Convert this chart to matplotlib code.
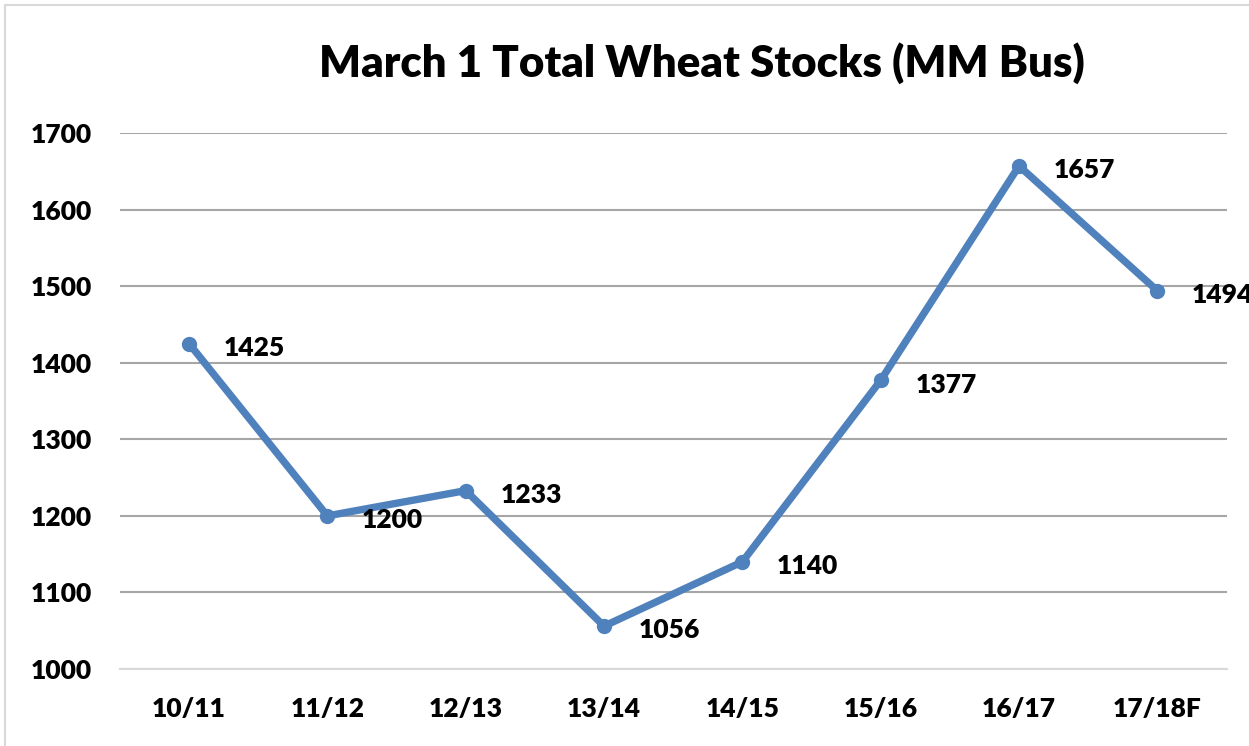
import matplotlib.pyplot as plt
from matplotlib.patches import Rectangle

plt.rcParams['font.family'] = ['Lato', 'DejaVu Sans']
plt.rcParams['font.weight'] = 'heavy'

seasons = ['10/11', '11/12', '12/13', '13/14', '14/15', '15/16', '16/17', '17/18F']
stocks = [1425, 1200, 1233, 1056, 1140, 1377, 1657, 1494]

fig = plt.figure(figsize=(12.49, 7.46), dpi=100)
ax = fig.add_axes([0.096, 0.1032, 0.886, 0.7185])

# chart border (cut off on the right and bottom like the screenshot)
fig.patches.append(Rectangle((5 / 1249, -0.05), 1.2, 0.05 + 741 / 746,
                             transform=fig.transFigure, fill=False,
                             edgecolor='#D9D9D9', linewidth=1.5))

x = list(range(len(seasons)))
ax.plot(x, stocks, color='#4F81BD', linewidth=5.3, marker='o', markersize=10,
        solid_capstyle='round', zorder=3)

for xi, v in zip(x, stocks):
    ax.annotate(str(v), (xi, v), xytext=(25, -3), textcoords='offset points',
                ha='left', va='center', fontsize=19, fontweight='heavy',
                annotation_clip=False)

ax.set_xlim(-0.5, len(seasons) - 0.5)
ax.set_ylim(1000, 1700)
ax.set_yticks(range(1000, 1701, 100))
ax.set_xticks(x)
ax.set_xticklabels(seasons)
ax.tick_params(axis='both', length=0, labelsize=19)
ax.tick_params(axis='x', pad=20)
ax.tick_params(axis='y', pad=20)
for lab in ax.get_xticklabels() + ax.get_yticklabels():
    lab.set_fontweight('heavy')

ax.grid(axis='y', color='#A6A6A6', linewidth=1.5)
ax.set_axisbelow(True)
for s in ['top', 'right', 'left']:
    ax.spines[s].set_visible(False)
ax.spines['bottom'].set_color('#D9D9D9')
ax.spines['bottom'].set_linewidth(1.5)

fig.text(702 / 1249, 1 - 63 / 746, 'March 1 Total Wheat Stocks (MM Bus)',
         ha='center', va='center', fontsize=31.5, fontweight='heavy')

fig.savefig('out.png', dpi=100)
